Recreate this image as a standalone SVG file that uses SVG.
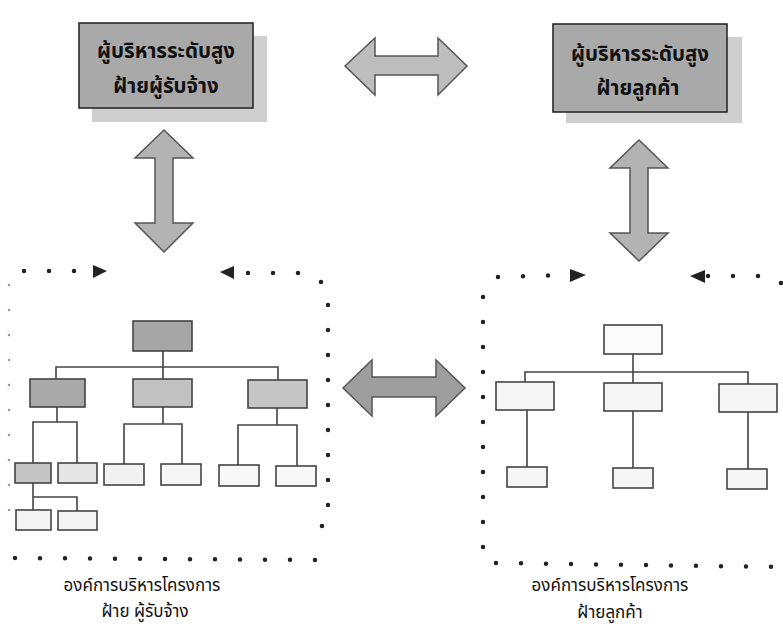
<svg xmlns="http://www.w3.org/2000/svg" width="783" height="630" viewBox="0 0 783 630">
<style>
.hdr{fill:#a9a9a9;stroke:#2a2a2a;stroke-width:1.6}
.shd{fill:#cfcfcf}
.ht{font-family:"Noto Sans Thai","Noto Sans","DejaVu Sans",sans-serif;font-size:20.5px;font-weight:bold;fill:#111;text-anchor:middle}
.lt{font-family:"Noto Sans Thai","Noto Sans","DejaVu Sans",sans-serif;font-size:17px;fill:#111;text-anchor:middle}
.arr{stroke:#555;stroke-width:1.5;stroke-linejoin:miter}
.bx{stroke:#444;stroke-width:1.6}
.ln{stroke:#444;stroke-width:1.6;fill:none}
.dot{fill:#222}
.dots{fill:none;stroke:#222;stroke-width:4.5;stroke-linecap:round;stroke-dasharray:0 25}
.faint{fill:none;stroke:#999;stroke-width:2.5;stroke-linecap:round;stroke-dasharray:0 25}
.ah{fill:#222}
</style>
<rect width="783" height="630" fill="#ffffff"/>

<g id="top-left">
<rect class="shd" x="92" y="36" width="175" height="86"/>
<rect class="hdr" x="79" y="23" width="174" height="85"/>
<text class="ht" x="166" y="58">ผู้บริหารระดับสูง</text>
<text class="ht" x="166" y="93">ฝ้ายผู้รับจ้าง</text>
</g>

<g id="top-right">
<rect class="shd" x="566" y="37" width="176" height="86"/>
<rect class="hdr" x="553" y="24" width="174" height="88"/>
<text class="ht" x="640" y="61">ผู้บริหารระดับสูง</text>
<text class="ht" x="638" y="95">ฝ้ายลูกค้า</text>
</g>

<g id="connectors">
<polygon class="arr" fill="#bdbdbd" points="345,66 375,38 375,56 438,56 438,38 467,66 438,95 438,75 375,75 375,95"/>
<polygon class="arr" fill="#9e9e9e" points="343,388 372,360 372,377 436,377 436,360 465,388 436,416 436,397 372,397 372,416"/>
<polygon class="arr" fill="#b3b3b3" points="164,130 193,158 173,158 173,223 193,223 164,252 135,223 155,223 155,158 135,158"/>
<polygon class="arr" fill="#b3b3b3" points="639,140 668,168 648,168 648,233 668,233 639,261 610,233 630,233 630,168 610,168"/>
</g>

<g id="left-org-frame">
<path class="dots" d="M24,271 L82,271"/>
<polygon class="ah" points="93,265 107,271 93,278"/>
<polygon class="ah" points="234,266 220,272 234,279"/>
<path class="dots" d="M248,273 L305,273"/>
<circle class="dot" cx="321" cy="282" r="2.3"/>
<path class="dots" d="M328,305 L328,515"/>
<circle class="dot" cx="322" cy="526" r="2.3"/>
<path class="dots" d="M15,558 L320,560"/>
<path class="faint" d="M9,285 L9,535"/>
</g>

<g id="left-org">
<path class="ln" d="M163,351 V367 M56,379 V367 H278 V380 M163,367 V379"/>
<path class="ln" d="M57,407 V422 M33,463 V422 H77 V463"/>
<path class="ln" d="M163,407 V424 M124,464 V424 H182 V464"/>
<path class="ln" d="M277,408 V425 M238,465 V425 H297 V466"/>
<path class="ln" d="M33,483 V510 M33,497 H77 V511"/>
<rect class="bx" x="133" y="321" width="59" height="30" fill="#a6a6a6"/>
<rect class="bx" x="30" y="379" width="55" height="28" fill="#a9a9a9"/>
<rect class="bx" x="133" y="379" width="59" height="28" fill="#c2c2c2"/>
<rect class="bx" x="248" y="380" width="59" height="28" fill="#c6c6c6"/>
<rect class="bx" x="15" y="463" width="36" height="20" fill="#c4c4c4"/>
<rect class="bx" x="58" y="463" width="39" height="20" fill="#e6e6e6"/>
<rect class="bx" x="104" y="464" width="40" height="21" fill="#f1f1f1"/>
<rect class="bx" x="161" y="464" width="40" height="21" fill="#f6f6f6"/>
<rect class="bx" x="219" y="465" width="40" height="21" fill="#f8f8f8"/>
<rect class="bx" x="276" y="466" width="40" height="20" fill="#f8f8f8"/>
<rect class="bx" x="16" y="510" width="35" height="20" fill="#f4f4f4"/>
<rect class="bx" x="58" y="511" width="39" height="19" fill="#f4f4f4"/>
</g>

<g id="right-org-frame">
<path class="dots" d="M498,277 L560,275"/>
<polygon class="ah" points="570,269 586,275 570,282"/>
<polygon class="ah" points="705,270 690,276 705,283"/>
<path class="dots" d="M708,276 L770,276"/>
<circle class="dot" cx="781" cy="283" r="2.3"/>
<path class="dots" d="M483,297 L483,555"/>
<path class="dots" d="M496,563 L780,567"/>
</g>

<g id="right-org">
<path class="ln" d="M633,354 V372 M525,382 V372 H748 V384 M633,372 V383"/>
<path class="ln" d="M527,410 V467 M633,411 V468 M748,412 V469"/>
<rect class="bx" x="604" y="325" width="58" height="29" fill="#fbfbfb"/>
<rect class="bx" x="496" y="382" width="58" height="28" fill="#f6f6f6"/>
<rect class="bx" x="604" y="383" width="58" height="28" fill="#f6f6f6"/>
<rect class="bx" x="719" y="384" width="58" height="28" fill="#f6f6f6"/>
<rect class="bx" x="507" y="467" width="40" height="20" fill="#f6f6f6"/>
<rect class="bx" x="613" y="468" width="40" height="20" fill="#f6f6f6"/>
<rect class="bx" x="727" y="469" width="40" height="20" fill="#f6f6f6"/>
</g>

<g id="label-left">
<text class="lt" x="142" y="591">องค์การบริหารโครงการ</text>
<text class="lt" x="145" y="617">ฝ้าย ผู้รับจ้าง</text>
</g>
<g id="label-right">
<text class="lt" x="610" y="591">องค์การบริหารโครงการ</text>
<text class="lt" x="610" y="618">ฝ้ายลูกค้า</text>
</g>
</svg>
